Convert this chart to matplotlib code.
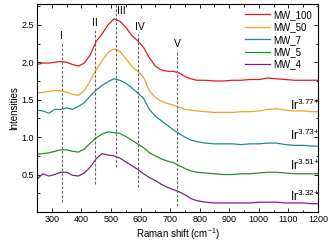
import matplotlib
matplotlib.use("Agg")
import matplotlib.pyplot as plt
from matplotlib.ticker import MultipleLocator

plt.rcParams['font.family'] = ['Liberation Sans', 'DejaVu Sans']
plt.rcParams['mathtext.fontset'] = 'custom'
plt.rcParams['mathtext.rm'] = 'Liberation Sans'
plt.rcParams['mathtext.it'] = 'Liberation Sans'

# Raman shift grid (cm-1)
shift = [250, 270, 290, 310, 330, 350, 370, 390, 410, 430, 450, 470, 490, 510,
         530, 550, 570, 590, 610, 630, 650, 670, 690, 710, 730, 750, 770, 790,
         820, 850, 880, 910, 940, 970, 1000, 1030, 1060, 1090, 1120, 1150, 1180, 1200]

mw_100 = [1.97, 1.99, 1.99, 2.00, 2.01, 2.00, 1.97, 1.95, 1.99, 2.10, 2.28, 2.38, 2.50, 2.58,
          2.55, 2.47, 2.36, 2.29, 2.20, 2.06, 1.95, 1.90, 1.88, 1.88, 1.86, 1.81, 1.78, 1.76,
          1.76, 1.75, 1.75, 1.76, 1.76, 1.77, 1.77, 1.79, 1.78, 1.77, 1.76, 1.76, 1.76, 1.76]
mw_50 = [1.59, 1.60, 1.61, 1.62, 1.62, 1.60, 1.57, 1.56, 1.62, 1.75, 1.90, 2.02, 2.13, 2.18,
         2.15, 2.05, 1.95, 1.88, 1.80, 1.62, 1.53, 1.48, 1.45, 1.43, 1.40, 1.37, 1.36, 1.35,
         1.34, 1.33, 1.33, 1.33, 1.34, 1.34, 1.35, 1.37, 1.38, 1.36, 1.35, 1.35, 1.34, 1.34]
mw_7 = [1.36, 1.35, 1.32, 1.37, 1.37, 1.39, 1.37, 1.41, 1.46, 1.55, 1.63, 1.69, 1.74, 1.78,
        1.76, 1.72, 1.66, 1.59, 1.52, 1.37, 1.28, 1.22, 1.16, 1.10, 1.05, 1.00, 0.96, 0.94,
        0.92, 0.91, 0.91, 0.91, 0.90, 0.91, 0.91, 0.92, 0.92, 0.90, 0.89, 0.89, 0.88, 0.88]
mw_5 = [0.77, 0.78, 0.79, 0.81, 0.83, 0.83, 0.81, 0.80, 0.84, 0.92, 0.99, 1.04, 1.07, 1.06,
        1.05, 1.01, 0.96, 0.91, 0.86, 0.79, 0.75, 0.71, 0.68, 0.66, 0.62, 0.58, 0.55, 0.53,
        0.52, 0.51, 0.50, 0.50, 0.51, 0.51, 0.52, 0.53, 0.53, 0.52, 0.51, 0.51, 0.51, 0.51]
mw_4 = [0.44, 0.51, 0.48, 0.50, 0.53, 0.53, 0.49, 0.48, 0.52, 0.60, 0.71, 0.78, 0.76, 0.75,
        0.72, 0.67, 0.62, 0.57, 0.51, 0.46, 0.42, 0.37, 0.33, 0.30, 0.27, 0.23, 0.18, 0.15,
        0.13, 0.12, 0.12, 0.12, 0.12, 0.12, 0.13, 0.13, 0.13, 0.12, 0.12, 0.12, 0.11, 0.11]

names = ["MW_100", "MW_50", "MW_7", "MW_5", "MW_4"]
colors = ["#e31a1c", "#f5a027", "#1b8a94", "#22902a", "#7d2189"]

# peak markers: position, label, bottom, top, label x/y
peak_pos = [333, 445, 517, 593, 723]
peak_lab = ["I", "II", "III", "IV", "V"]
peak_lo = [0.13, 0.37, 0.60, 0.33, 0.08]
peak_hi = [2.27, 2.45, 2.78, 2.38, 2.16]
lab_x = [333, 445, 535, 598, 723]
lab_y = [2.35, 2.53, 2.68, 2.47, 2.24]

ox_labels = ["3.77", "3.73", "3.51", "3.32"]
ox_y = [1.42, 1.02, 0.62, 0.21]

fig = plt.figure(figsize=(3.29, 2.47), dpi=100)
ax = fig.add_axes([0.1125, 0.142, 0.854, 0.842])

for ys, n, c in zip([mw_100, mw_50, mw_7, mw_5, mw_4], names, colors):
    ax.plot(shift, ys, color=c, lw=0.9, label=n)

for p, lo, hi in zip(peak_pos, peak_lo, peak_hi):
    ax.vlines(p, lo, hi, colors="#666666", linestyles=(0, (2.5, 1.5)), lw=0.8)
for l, x, y in zip(peak_lab, lab_x, lab_y):
    ax.text(x, y, l, ha="center", va="center", fontsize=7.5)

for l, y in zip(ox_labels, ox_y):
    ax.text(1106, y, "Ir$^{" + l + "{+}}$", fontsize=8.5, va="center", ha="left")

ax.set_xlim(250, 1200)
ax.set_ylim(0, 2.78)
ax.xaxis.set_major_locator(MultipleLocator(100))
ax.xaxis.set_minor_locator(MultipleLocator(50))
ax.yaxis.set_minor_locator(MultipleLocator(0.25))
ax.set_yticks([0.5, 1.0, 1.5, 2.0, 2.5])
ax.tick_params(which="both", direction="in", top=True, right=True, labelsize=6.5, pad=2)
ax.tick_params(which="major", length=3, width=0.6)
ax.tick_params(which="minor", length=1.8, width=0.6)
for s in ax.spines.values():
    s.set_linewidth(0.8)

ax.set_xlabel("Raman shift (cm$^{-1}$)", fontsize=7, labelpad=2)
ax.set_ylabel("Intensities", fontsize=7, labelpad=2)

ax.legend(loc="upper right", fontsize=7, frameon=False, handlelength=2.6,
          handletextpad=0.3, labelspacing=0.25, borderaxespad=0.2)

fig.savefig("out.png", dpi=100)
